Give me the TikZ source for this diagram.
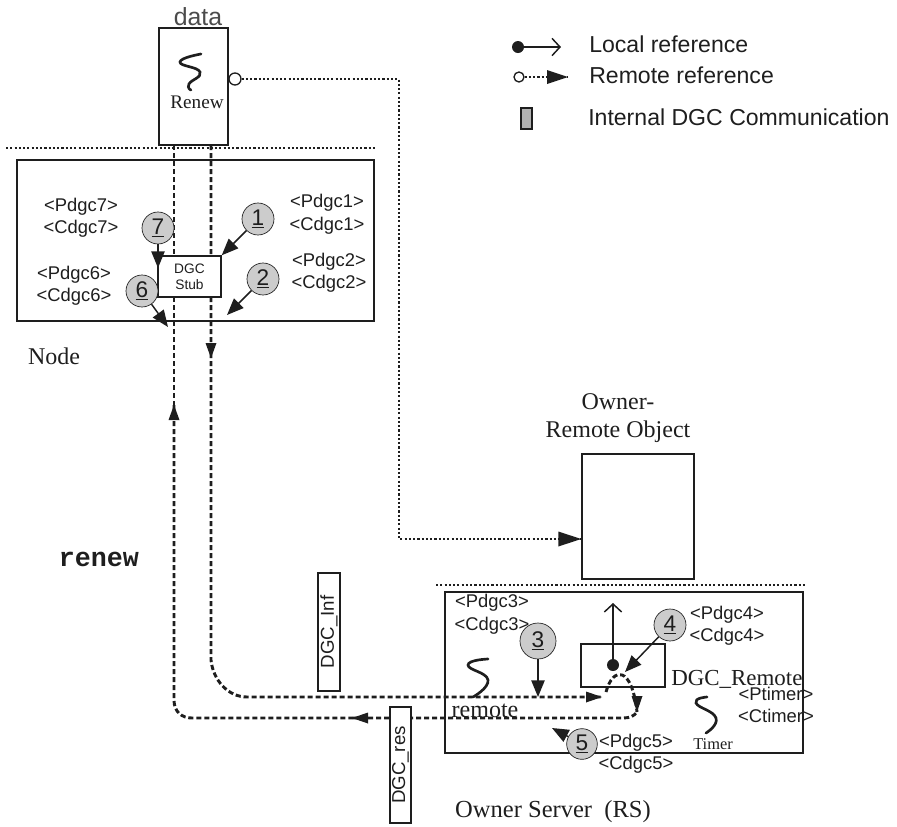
\documentclass[tikz,border=0pt]{standalone}
\usepackage{fontspec}
\setmainfont{Liberation Sans}
\newfontfamily\serifface{Liberation Serif}
\newfontfamily\monoface{Liberation Mono}
\usetikzlibrary{arrows.meta,fit,backgrounds}
\definecolor{ink}{HTML}{1E1E1E}
\definecolor{numfill}{HTML}{CCCCCC}
\tikzset{
  every node/.style={text=ink},
  boxn/.style={draw=ink,line width=1.1pt,inner sep=0pt,fill=none},
  whitebox/.style={boxn,fill=white},
  lab/.style={font=\fontsize{13.8}{15}\selectfont,inner sep=0pt},
  sertext/.style={font=\serifface\fontsize{18}{20}\selectfont,inner sep=0pt},
  legtext/.style={font=\fontsize{17.3}{20}\selectfont,inner sep=0pt,anchor=west},
  numc/.style={circle,draw=ink,line width=0.5pt,fill=numfill,minimum size=#1,inner sep=0pt,font=\fontsize{17}{18}\selectfont},
  numc/.default=24pt,
  solidtip/.style={-{Triangle[length=12.5pt,width=10pt]}},
  numarrow/.style={draw=ink,line width=1.1pt,solidtip},
  openarrow/.style={draw=ink,line width=1.1pt,-{Straight Barb[length=6pt,width=13pt,line width=1.1pt]}},
  dotline/.style={draw=ink,line width=1pt,dash pattern=on 1.6pt off 1.6pt},
  dashline/.style={draw=ink,line width=2.2pt,dash pattern=on 3.9pt off 2.1pt},
  squig/.style={draw=ink,line width=2pt,line cap=round},
  refdot/.style={circle,fill=ink,minimum size=9pt,inner sep=0pt},
  refring/.style={circle,draw=ink,line width=1pt,fill=white,minimum size=9pt,inner sep=0pt},
}
\begin{document}
\begin{tikzpicture}[x=0.75pt,y=-0.75pt]
\useasboundingbox (0,0) rectangle (897,826);
% main boxes
\node[boxn,fit={(159,28)(228,145)}] (data) {};
\node[boxn,fit={(17,160)(374,321)}] (nodebox) {};
\node[whitebox,fit={(158,256)(221,297)}] (stub) {};
\node[boxn,fit={(582,454)(694,579)}] (owner) {};
\node[boxn,fit={(445,592)(803,753)}] (rs) {};
\node[boxn,fit={(581,644)(665,687)}] (dgcremote) {};
\node[whitebox,fit={(318,573)(340,691)}] (dgcinf) {};
\node[whitebox,fit={(390,707)(411,823)}] (dgcres) {};
\node[inner sep=0pt,font=\fontsize{14}{15}\selectfont,rotate=90] at (dgcinf) {DGC\_Inf};
\node[inner sep=0pt,font=\fontsize{14}{15}\selectfont,rotate=90] at (dgcres) {DGC\_res};
\node[inner sep=0pt,align=center,font=\fontsize{10.3}{12.2}\selectfont] (stubt) at (stub) {DGC\\Stub};
% titles
\node[inner sep=0pt,font=\fontsize{18.6}{20}\selectfont,text=ink!80] (datat) at (198,17) {data};
\node[inner sep=0pt,font=\serifface\fontsize{14.4}{16}\selectfont] (renewt) at (197,102) {Renew};
\node[sertext] (nodet) at (54,356) {Node};
\node[inner sep=0pt,align=center,font=\serifface\fontsize{18}{21}\selectfont] (ownert) at (618,418) {Owner-\\Remote Object};
\node[inner sep=0pt,font=\monoface\bfseries\fontsize{20}{22}\selectfont] (renewb) at (99,559) {renew};
\node[sertext] (remotet) at (485,711) {remote};
\node[inner sep=0pt,font=\serifface\fontsize{17.2}{19}\selectfont,anchor=west] (remotedgc) at (671,679) {DGC\_Remote};
\node[inner sep=0pt,font=\serifface\fontsize{12.3}{14}\selectfont] (timert) at (713,744) {Timer};
\node[sertext,font=\serifface\fontsize{18.4}{20}\selectfont] (ownersrv) at (553,812) {Owner Server\ \ (RS)};
% tag labels
\node[lab] (p7) at (81,207) {<Pdgc7>};
\node[lab] (c7) at (81,229) {<Cdgc7>};
\node[lab] (p6) at (74,275) {<Pdgc6>};
\node[lab] (c6) at (74,297) {<Cdgc6>};
\node[lab] (p1) at (327,203) {<Pdgc1>};
\node[lab] (c1) at (327,226) {<Cdgc1>};
\node[lab] (p2) at (329,262) {<Pdgc2>};
\node[lab] (c2) at (329,284) {<Cdgc2>};
\node[lab] (p3) at (492,603) {<Pdgc3>};
\node[lab] (c3) at (492,626) {<Cdgc3>};
\node[lab] (p4) at (727,615) {<Pdgc4>};
\node[lab] (c4) at (727,637) {<Cdgc4>};
\node[lab] (pt) at (776,694) {<Ptimer>};
\node[lab] (ct) at (776,716) {<Ctimer>};
\node[lab] (p5) at (636,743) {<Pdgc5>};
\node[lab] (c5) at (636,765) {<Cdgc5>};
% numbered circles
\node[numc] (n1) at (258,219) {\underline{1}};
\node[numc] (n2) at (263,279) {\underline{2}};
\node[numc=27pt] (n3) at (538,641) {\underline{3}};
\node[numc] (n4) at (670,625) {\underline{4}};
\node[numc=23pt] (n5) at (582,744) {\underline{5}};
\node[numc] (n6) at (142,291) {\underline{6}};
\node[numc] (n7) at (158,228) {\underline{7}};
% free ends
\coordinate (t1) at (stub.north east);
\coordinate (t2) at (227,315);
\coordinate (t3) at (538,697);
\coordinate (t4) at (625,672);
\coordinate (t5) at (552,728);
\coordinate (t6) at (168,327);
\coordinate (t7) at (158,268);
\draw[numarrow] (n1) -- (t1);
\draw[numarrow] (n2) -- (t2);
\draw[numarrow] (n3) -- (t3);
\draw[numarrow] (n4) -- (t4);
\draw[numarrow] (n5) -- (t5);
\draw[numarrow] (n6) -- (t6);
\draw[numarrow] (n7) -- (t7);
% local reference inside DGC_Remote
\node[refdot] (rd) at (613,665) {};
\coordinate (rdtop) at (613,603);
\draw[openarrow] (rd) -- (rdtop);
% remote reference
\node[refring] (rr) at (235,79) {};
\coordinate (rbend) at (399,79);
\coordinate (rtip) at (owner.west |- 0,539);
\draw[dotline] (rr) -- (rbend) -- (rbend |- rtip) -- (rtip);
\fill[ink] (rtip) -- ++(-23,-7.5) -- ++(0,15) -- cycle;
% separators
\coordinate (s1a) at (6,148); \coordinate (s1b) at (377,148);
\coordinate (s2a) at (436,585); \coordinate (s2b) at (807,585);
\draw[dotline] (s1a) -- (s1b);
\draw[dotline] (s2a) -- (s2b);
% threads
\draw[squig] plot[smooth,tension=0.9] coordinates {(201,54)(180,62)(200,72)(189,84)(191,90)};
\draw[squig] plot[smooth,tension=0.9] coordinates {(488,659)(468,665)(488,680)(473,697)};
\draw[squig] plot[smooth,tension=0.9] coordinates {(707,697)(696,703)(716,718)(706,733)};
% dashed message paths, behind the white boxes
\coordinate (a0) at (174,145);
\coordinate (a1) at (174,405);
\coordinate (a2) at (174,700);
\coordinate (a3) at (192,718);
\coordinate (a4) at (352,718);
\coordinate (a5) at (623,718);
\coordinate (a6) at (637,712);
\coordinate (b0) at (211,145);
\coordinate (b1) at (211,358);
\coordinate (b2) at (211,660);
\coordinate (b3) at (247,697);
\coordinate (b4) at (602,697);
\coordinate (b5) at (606,692);
\begin{scope}[on background layer]
\draw[dashline] (a0) -- (a1);
\draw[dashline] (a1) -- (a2) .. controls (174,712) and (182,718) .. (a3) -- (a4);
\draw[dashline] (a4) -- (a5) .. controls (630,718) and (634,716) .. (a6);
\draw[dashline] (b0) -- (b2) .. controls (213,680) and (228,697) .. (b3) -- (b4);
\draw[dashline] (b5) .. controls (613,666) and (632,666) .. (a6);
\end{scope}
\fill[ink] (a1) -- ++(-5.5,15) -- ++(11,0) -- cycle;
\fill[ink] (a4) -- ++(16,-5.5) -- ++(0,11) -- cycle;
\fill[ink] (a6) -- ++(-5.5,-16) -- ++(11,0) -- cycle;
\fill[ink] (b1) -- ++(-5.5,-15) -- ++(11,0) -- cycle;
\fill[ink] (b4) -- ++(-16,-5.5) -- ++(0,11) -- cycle;
% legend
\node[refdot] (ld) at (518,47) {};
\coordinate (le) at (561,47);
\draw[openarrow] (ld) -- (le);
\node[refring,minimum size=7.5pt] (lr) at (519,77) {};
\coordinate (lre) at (568,77);
\draw[dotline] (lr) -- (lre);
\fill[ink] (lre) -- ++(-21,-7) -- ++(0,14) -- cycle;
\node[draw=ink,line width=1pt,fill=black!30,inner sep=0pt,fit={(521,108)(532,129)}] (lg) {};
\node[legtext] (lt1) at (589,44) {Local reference};
\node[legtext] (lt2) at (589,75) {Remote reference};
\node[legtext] (lt3) at (588,117) {Internal DGC Communication};
\end{tikzpicture}
\end{document}
